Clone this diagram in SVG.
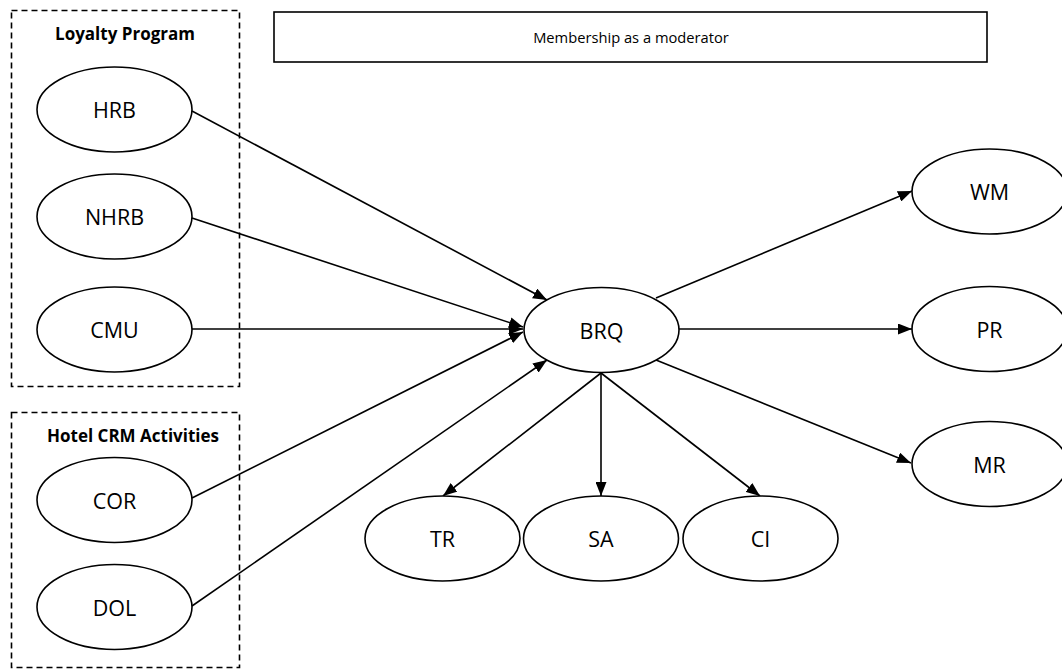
<svg xmlns="http://www.w3.org/2000/svg" width="1062" height="671" viewBox="0 0 1062 671">
<style>
.node ellipse{fill:#fff;stroke:#000;stroke-width:1.6}
.lbl{font-family:"Open Sans","Liberation Sans",sans-serif;font-size:21.5px;fill:#000;text-anchor:middle;dominant-baseline:central}
.grp{fill:none;stroke:#000;stroke-width:1.6;stroke-dasharray:6,4}
.gl{font-family:"Open Sans","Liberation Sans",sans-serif;font-size:17px;font-weight:bold;fill:#000;text-anchor:middle;dominant-baseline:central}
.edges line{stroke:#000;stroke-width:1.6;marker-end:url(#ah)}
</style>
<defs>
<marker id="ah" viewBox="0 0 10 10" refX="10" refY="5" markerWidth="14" markerHeight="11" markerUnits="userSpaceOnUse" orient="auto" preserveAspectRatio="none">
<path d="M0,0 L10,5 L0,10 z" fill="#000"/>
</marker>
</defs>
<rect width="1062" height="671" fill="#fff"/>
<g id="group-loyalty">
<rect class="grp" x="11.5" y="10.5" width="228" height="376"/>
<text class="gl" x="125" y="33">Loyalty Program</text>
</g>
<g id="group-crm">
<rect class="grp" x="11.5" y="412.5" width="228" height="255"/>
<text class="gl" x="133" y="435">Hotel CRM Activities</text>
</g>
<g id="moderator">
<rect x="274" y="12" width="713" height="50" fill="#fff" stroke="#000" stroke-width="1.6"/>
<text class="lbl" x="631" y="37" style="font-size:14.7px">Membership as a moderator</text>
</g>
<g class="edges" id="connectors">
<line x1="192" y1="111" x2="547" y2="300"/>
<line x1="192" y1="218" x2="523" y2="327"/>
<line x1="192" y1="329" x2="523" y2="329"/>
<line x1="192" y1="498" x2="523" y2="332"/>
<line x1="192" y1="606" x2="547" y2="360"/>
<line x1="656" y1="298" x2="912" y2="191"/>
<line x1="679" y1="329" x2="912" y2="329"/>
<line x1="656" y1="360" x2="911" y2="463"/>
<line x1="601" y1="373" x2="443" y2="496"/>
<line x1="601" y1="373" x2="601" y2="496"/>
<line x1="601" y1="373" x2="760" y2="496"/>
</g>
<g class="node" id="HRB"><ellipse cx="114.5" cy="109.5" rx="77.5" ry="42.5"/><text class="lbl" x="114.5" y="109.5">HRB</text></g>
<g class="node" id="NHRB"><ellipse cx="114.5" cy="216.5" rx="77.5" ry="42.5"/><text class="lbl" x="114.5" y="216.5">NHRB</text></g>
<g class="node" id="CMU"><ellipse cx="114.5" cy="329.5" rx="77.5" ry="42.5"/><text class="lbl" x="114.5" y="329.5">CMU</text></g>
<g class="node" id="COR"><ellipse cx="114.5" cy="500" rx="77.5" ry="42.5"/><text class="lbl" x="114.5" y="500">COR</text></g>
<g class="node" id="DOL"><ellipse cx="114.5" cy="607" rx="77.5" ry="42.5"/><text class="lbl" x="114.5" y="607">DOL</text></g>
<g class="node" id="BRQ"><ellipse cx="601.5" cy="330" rx="77.5" ry="42.5"/><text class="lbl" x="601.5" y="330">BRQ</text></g>
<g class="node" id="WM"><ellipse cx="989.5" cy="191.5" rx="77.5" ry="42.5"/><text class="lbl" x="989.5" y="191.5">WM</text></g>
<g class="node" id="PR"><ellipse cx="989.5" cy="329" rx="77.5" ry="42.5"/><text class="lbl" x="989.5" y="329">PR</text></g>
<g class="node" id="MR"><ellipse cx="989.5" cy="464" rx="77.5" ry="42.5"/><text class="lbl" x="989.5" y="464">MR</text></g>
<g class="node" id="TR"><ellipse cx="442.5" cy="538.5" rx="77.5" ry="42.5"/><text class="lbl" x="442.5" y="538.5">TR</text></g>
<g class="node" id="SA"><ellipse cx="601" cy="538.5" rx="77.5" ry="42.5"/><text class="lbl" x="601" y="538.5">SA</text></g>
<g class="node" id="CI"><ellipse cx="760.5" cy="538.5" rx="77.5" ry="42.5"/><text class="lbl" x="760.5" y="538.5">CI</text></g>
</svg>
